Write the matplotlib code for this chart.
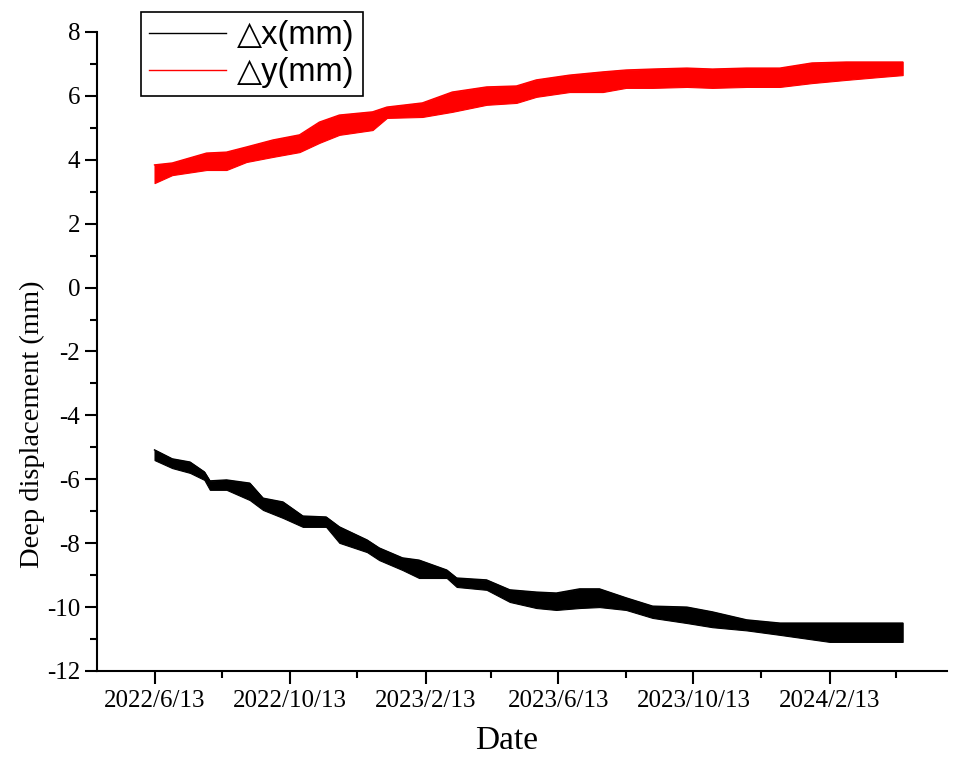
import matplotlib
matplotlib.use("Agg")
import matplotlib.pyplot as plt
import numpy as np
import pandas as pd

plt.rcParams['font.family'] = ['Liberation Serif', 'DejaVu Serif']
plt.rcParams['axes.unicode_minus'] = False

# envelope of the noisy readings (upper / lower edge of the band)
dx_dates = ['2022-06-13', '2022-06-29', '2022-07-15', '2022-07-28', '2022-08-02', '2022-08-17',
            '2022-09-07', '2022-09-19', '2022-10-07', '2022-10-25', '2022-11-15', '2022-11-27',
            '2022-12-22', '2023-01-02', '2023-01-23', '2023-02-07', '2023-03-04', '2023-03-13',
            '2023-04-09', '2023-04-30', '2023-05-24', '2023-06-11', '2023-07-02', '2023-07-20',
            '2023-08-13', '2023-09-06', '2023-10-07', '2023-10-30', '2023-11-30', '2023-12-30',
            '2024-02-13', '2024-03-29', '2024-04-19']
dx_hi = [-5.08, -5.36, -5.46, -5.77, -6.05, -6.02, -6.12, -6.59, -6.71, -7.15, -7.18, -7.49,
         -7.90, -8.15, -8.46, -8.53, -8.84, -9.09, -9.15, -9.46, -9.53, -9.56, -9.43, -9.43,
         -9.71, -9.97, -10.00, -10.15, -10.40, -10.50, -10.50, -10.50, -10.50]
dx_lo = [-5.40, -5.65, -5.80, -6.02, -6.33, -6.33, -6.65, -6.96, -7.21, -7.49, -7.49, -7.99,
         -8.28, -8.53, -8.84, -9.09, -9.09, -9.37, -9.46, -9.84, -10.03, -10.09, -10.03, -10.00,
         -10.09, -10.34, -10.50, -10.63, -10.73, -10.87, -11.09, -11.09, -11.09]

dy_dates = ['2022-06-13', '2022-06-29', '2022-07-30', '2022-08-17', '2022-09-04', '2022-09-28',
            '2022-10-22', '2022-11-09', '2022-11-27', '2022-12-27', '2023-01-09', '2023-02-10',
            '2023-03-09', '2023-04-09', '2023-05-06', '2023-05-24', '2023-06-23', '2023-07-23',
            '2023-08-13', '2023-09-06', '2023-10-07', '2023-10-30', '2023-11-30', '2023-12-30',
            '2024-01-28', '2024-02-28', '2024-03-29', '2024-04-19']
dy_hi = [3.84, 3.90, 4.21, 4.24, 4.40, 4.62, 4.78, 5.18, 5.40, 5.50, 5.65, 5.78, 6.12, 6.28,
         6.31, 6.50, 6.65, 6.75, 6.81, 6.84, 6.87, 6.84, 6.87, 6.87, 7.03, 7.06, 7.06, 7.06]
dy_lo = [3.27, 3.52, 3.68, 3.68, 3.93, 4.09, 4.24, 4.53, 4.78, 4.93, 5.31, 5.34, 5.50, 5.72,
         5.78, 5.97, 6.12, 6.12, 6.25, 6.25, 6.28, 6.25, 6.28, 6.28, 6.40, 6.50, 6.59, 6.65]

major_dates = ['2022-06-13', '2022-10-13', '2023-02-13', '2023-06-13', '2023-10-13', '2024-02-13']
major_labels = ['2022/6/13', '2022/10/13', '2023/2/13', '2023/6/13', '2023/10/13', '2024/2/13']
minor_dates = ['2022-08-13', '2022-12-13', '2023-04-13', '2023-08-13', '2023-12-13', '2024-04-13']

fig = plt.figure(figsize=(9.64, 7.58), dpi=100)
ax = fig.add_axes([0.1006, 0.1148, 0.8817, 0.843])

xd = pd.to_datetime(dx_dates)
yd = pd.to_datetime(dy_dates)

ax.fill_between(xd, dx_lo, dx_hi, color='black', lw=0.8)
ax.plot(xd, dx_hi, color='black', lw=1, label='\u25b3x(mm)')
ax.fill_between(yd, dy_lo, dy_hi, color='red', lw=0.8)
ax.plot(yd, dy_hi, color='red', lw=1, label='\u25b3y(mm)')

ax.set_xlim(pd.Timestamp('2022-04-22'), pd.Timestamp('2024-05-29'))
ax.set_ylim(-12, 8)
ax.set_yticks(np.arange(-12, 9, 2))
ax.set_yticks(np.arange(-11, 8, 2), minor=True)
ax.set_xticks(pd.to_datetime(major_dates))
ax.set_xticklabels(major_labels)
ax.set_xticks(pd.to_datetime(minor_dates), minor=True)

for side in ['top', 'right']:
    ax.spines[side].set_visible(False)
for side in ['left', 'bottom']:
    ax.spines[side].set_linewidth(1.5)

ax.tick_params(which='major', length=9, width=1.5, labelsize=18, pad=3)
ax.tick_params(axis='x', which='major', pad=5)
ax.tick_params(which='minor', length=5, width=1.5)

ax.set_xlabel('Date', fontsize=24)
ax.xaxis.set_label_coords(0.482, -0.085)
ax.set_ylabel('Deep displacement (mm)', fontsize=20.5)
ax.yaxis.set_label_coords(-0.061, 0.386)

leg = ax.legend(loc='upper left', bbox_to_anchor=(141 / 964, 1 - 12 / 758),
                bbox_transform=fig.transFigure, borderaxespad=0,
                prop={'family': ['Liberation Sans', 'DejaVu Sans'], 'size': 23.5},
                handlelength=2.35, handletextpad=0.35, labelspacing=0.18,
                borderpad=0.25, fancybox=False, framealpha=1, edgecolor='black')
leg.get_frame().set_linewidth(1.2)

fig.savefig('out.png', dpi=100)
